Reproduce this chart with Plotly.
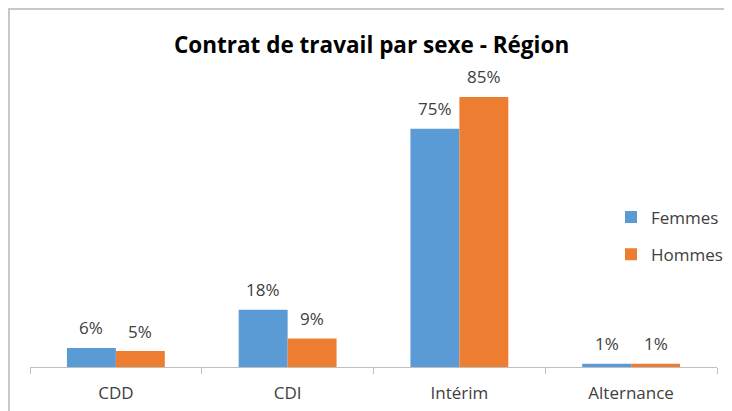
import plotly.graph_objects as go

categories = ["CDD", "CDI", "Intérim", "Alternance"]
femmes = [0.06, 0.18, 0.75, 0.01]
hommes = [0.05, 0.09, 0.85, 0.01]

# The page body has an 8px margin, so figure coords = screen coords - 8
OFF = 8
W, H = 732 - OFF, 411 - OFF
PL, PR, PT, PB = 30, 717, 81, 367          # plot area in screen pixels
L, R, T, B = PL - OFF, W - (PR - OFF), PT - OFF, H - (PB - OFF)
pw, ph = W - L - R, H - T - B

def px(x):
    return (x - OFF - L) / pw

def py(y):
    return (H - B - (y - OFF)) / ph

font = "Open Sans, Noto Sans, sans-serif"
txt = "#404040"
colors = {"Femmes": "#5B9BD5", "Hommes": "#ED7D31"}

fig = go.Figure()
for name, vals in (("Femmes", femmes), ("Hommes", hommes)):
    fig.add_trace(go.Bar(name=name, x=categories, y=vals, marker_color=colors[name],
                         marker_line_width=0, legendgroup=name, hoverinfo="x+y"))

bargap = 0.43
cat_px = pw / len(categories)
bar_px = (1 - bargap) * cat_px / 2
for shift, vals in ((-bar_px / 2, femmes), (bar_px / 2, hommes)):
    for c, v in zip(categories, vals):
        fig.add_annotation(x=c, y=v, xref="x", yref="y", text=f"{round(v * 100)}%",
                           showarrow=False, xshift=shift, yshift=20, yanchor="middle",
                           font=dict(size=17, color=txt, family=font))

fig.update_layout(
    width=W, height=H,
    margin=dict(l=L, r=R, t=T, b=B, pad=0, autoexpand=False),
    paper_bgcolor="white", plot_bgcolor="white",
    barmode="group", bargap=bargap, bargroupgap=0,
    title=dict(text="<b>Contrat de travail par sexe - Région</b>", x=px(375), xanchor="center",
               y=1 - (45 - OFF) / H, yanchor="middle",
               font=dict(size=22.5, color="black", family=font)),
    legend=dict(x=px(611), xanchor="left", y=py(236), yanchor="middle",
                font=dict(size=17, color=txt, family=font), tracegroupgap=12,
                bgcolor="rgba(0,0,0,0)"),
    font=dict(family=font, color=txt),
    showlegend=True,
)
fig.update_xaxes(showline=True, linecolor="#BFBFBF", linewidth=1, ticks="outside",
                 tickson="boundaries", ticklen=6, tickcolor="#BFBFBF",
                 ticklabelstandoff=11,
                 tickfont=dict(size=17, color=txt, family=font), showgrid=False)
fig.update_yaxes(range=[0, 0.9], visible=False, showgrid=False)

# chart frame (top and left edges)
fig.add_shape(type="line", xref="paper", yref="paper", x0=px(8), x1=px(760), y0=py(9), y1=py(9),
              line=dict(color="#C8C8C8", width=2))
fig.add_shape(type="line", xref="paper", yref="paper", x0=px(9), x1=px(9), y0=py(9), y1=py(430),
              line=dict(color="#C8C8C8", width=2))

fig.write_html("out.html")
